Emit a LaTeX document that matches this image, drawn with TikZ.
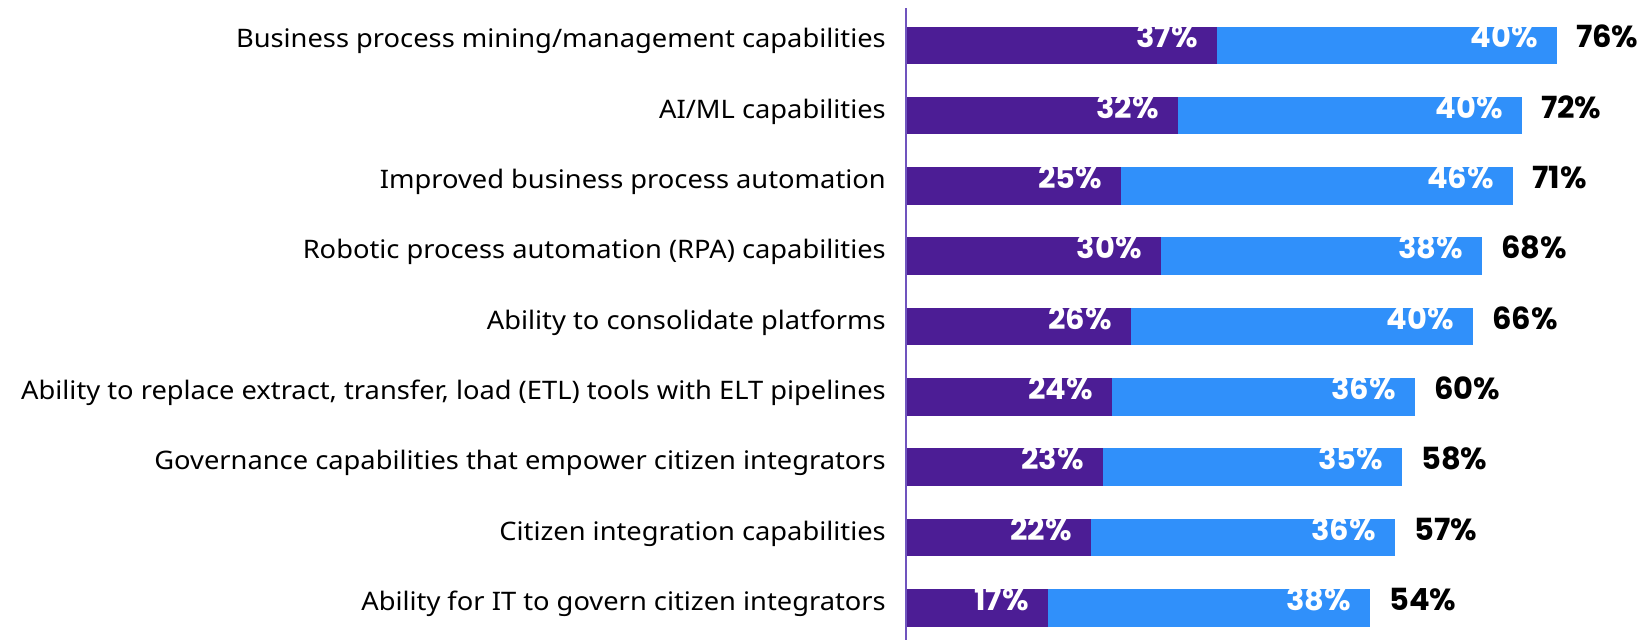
\documentclass[tikz,border=0pt]{standalone}
\usepackage{fontspec}
\setmainfont{Noto Sans}
\newfontfamily\labfont[FakeStretch=1.07]{Noto Sans}
\newfontfamily\numfont{Poppins}
\definecolor{barpurple}{RGB}{76,29,149}
\definecolor{barblue}{RGB}{48,144,250}
\definecolor{axispurple}{RGB}{112,84,190}
\tikzset{
  catlabel/.style={anchor=mid east, inner sep=0pt, font=\labfont\fontsize{25.5}{30}\selectfont, text=black},
  inlabel/.style={anchor=mid east, inner sep=0pt, font=\numfont\bfseries\fontsize{30.5}{36}\selectfont, text=white},
  totlabel/.style={anchor=mid west, inner sep=0pt, font=\numfont\bfseries\fontsize{30.5}{36}\selectfont, text=black},
  pbar/.style={fill=barpurple, draw=none},
  bbar/.style={fill=barblue, draw=none},
}
\begin{document}
\begin{tikzpicture}[x=1pt,y=-1pt]
\useasboundingbox (0,0) rectangle (1644,640);
\foreach \i/\pe/\be/\p/\b/\t/\lab in {
 0/1217/1557/37/40/76/{Business process mining/management capabilities},
 1/1178/1522/32/40/72/{AI/ML capabilities},
 2/1121/1513/25/46/71/{Improved business process automation},
 3/1161/1482/30/38/68/{Robotic process automation (RPA) capabilities},
 4/1131/1473/26/40/66/{Ability to consolidate platforms},
 5/1112/1415/24/36/60/{Ability to replace extract, transfer, load (ETL) tools with ELT pipelines},
 6/1103/1402/23/35/58/{Governance capabilities that empower citizen integrators},
 7/1091/1395/22/36/57/{Citizen integration capabilities},
 8/1048/1370/17/38/54/{Ability for IT to govern citizen integrators}}{
  \pgfmathsetmacro\yc{45.3+70.3*\i}
  \pgfmathsetmacro\yt{\yc-18.8}
  \pgfmathsetmacro\yb{\yc+18.8}
  \fill[pbar] (907,\yt) rectangle (\pe,\yb);
  \fill[bbar] (\pe,\yt) rectangle (\be,\yb);
  \node[catlabel] (c\i) at (886,\yc) {\lab};
  \node[inlabel] (p\i) at (\pe-19,\yc) {\p\%};
  \node[inlabel] (b\i) at (\be-19,\yc) {\b\%};
  \node[totlabel] (t\i) at (\be+19,\yc) {\t\%};
}
\draw[axispurple, line width=2pt] (906,8) -- (906,640);
\end{tikzpicture}
\end{document}
